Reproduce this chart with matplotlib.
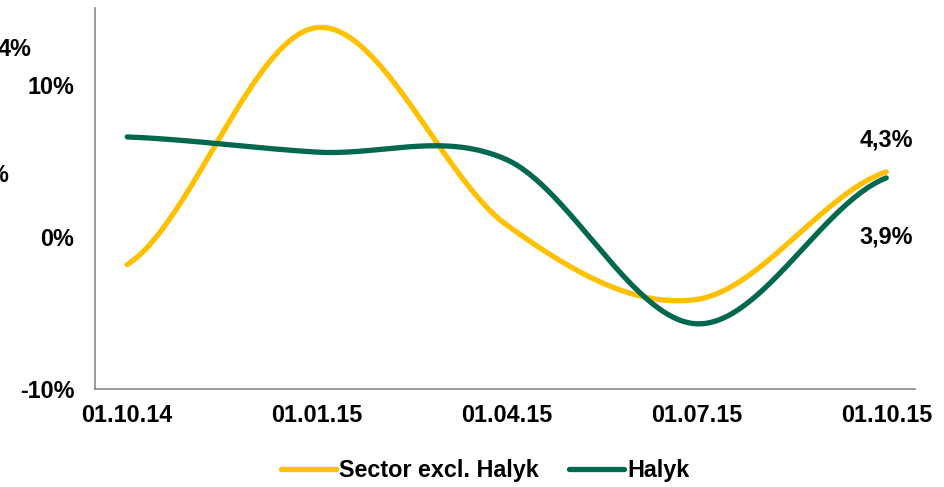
import numpy as np
import matplotlib.pyplot as plt
from matplotlib.lines import Line2D

plt.rcParams['font.family'] = ['Liberation Sans', 'DejaVu Sans']
plt.rcParams['font.weight'] = 'bold'

# data
dates = ['01.10.14', '01.01.15', '01.04.15', '01.07.15', '01.10.15']
sector = [-1.8, 13.8, 0.8, -4.1, 4.3]
halyk = [6.6, 5.6, 5.1, -5.7, 3.9]
yticks = [-10, 0, 10]

c_sector = '#FFC000'
c_halyk = '#00684F'
fs = 16.8


def smooth(y, n=60):
    # catmull-rom style smoothing like excel's smoothed lines
    y = np.asarray(y, float)
    p = np.concatenate([[y[0]], y, [y[-1]]])
    xs, ys = [], []
    for i in range(len(y) - 1):
        p0, p1, p2, p3 = p[i], p[i + 1], p[i + 2], p[i + 3]
        t = np.linspace(0, 1, n, endpoint=(i == len(y) - 2))
        m1 = (p2 - p0) / 2
        m2 = (p3 - p1) / 2
        h00 = 2 * t**3 - 3 * t**2 + 1
        h10 = t**3 - 2 * t**2 + t
        h01 = -2 * t**3 + 3 * t**2
        h11 = t**3 - t**2
        ys.append(h00 * p1 + h10 * m1 + h01 * p2 + h11 * m2)
        xs.append(i + t)
    return np.concatenate(xs), np.concatenate(ys)


fig = plt.figure(figsize=(9.44, 4.87), dpi=100)
ax = fig.add_axes([0.1006, 0.201, 0.8684, 0.783])

x, y = smooth(sector)
ax.plot(x, y, color=c_sector, lw=3.8, solid_capstyle='round')
x, y = smooth(halyk)
ax.plot(x, y, color=c_halyk, lw=3.8, solid_capstyle='round')

ax.set_xlim(-0.17, 4.15)
ax.set_ylim(-10, 15.1)
ax.set_xticks(range(len(dates)))
ax.set_xticklabels(dates, fontsize=fs, fontweight='bold')
ax.set_yticks(yticks)
ax.set_yticklabels([f'{v}%' for v in yticks], fontsize=fs, fontweight='bold')
ax.tick_params(length=0)
ax.tick_params(axis='y', pad=15)
ax.tick_params(axis='x', pad=11)
for s in ['top', 'right']:
    ax.spines[s].set_visible(False)
for s in ['left', 'bottom']:
    ax.spines[s].set_color('#888888')
    ax.spines[s].set_linewidth(1.2)

ax.text(4, 6.4, f'{sector[-1]:.1f}%'.replace('.', ','), ha='center', va='center',
        fontsize=fs, fontweight='bold')
ax.text(4, 0.0, f'{halyk[-1]:.1f}%'.replace('.', ','), ha='center', va='center',
        fontsize=fs, fontweight='bold')

# leftover labels cut at the edge
fig.text(31 / 944, 1 - 50 / 487, '4%', ha='right', va='center', fontsize=fs, fontweight='bold')
fig.text(8 / 944, 1 - 175 / 487, '%', ha='right', va='center', fontsize=fs, fontweight='bold')

handles = [Line2D([], [], color=c_sector, lw=3.8, solid_capstyle='round'),
           Line2D([], [], color=c_halyk, lw=3.8, solid_capstyle='round')]
fig.legend(handles, ['Sector excl. Halyk', 'Halyk'], loc='center', bbox_to_anchor=(0.514, 1 - 471 / 487),
           ncol=2, frameon=False, prop={'size': fs, 'weight': 'bold'},
           handlelength=2.35, handletextpad=0.15, columnspacing=1.3)

fig.savefig('out.png', dpi=100)
